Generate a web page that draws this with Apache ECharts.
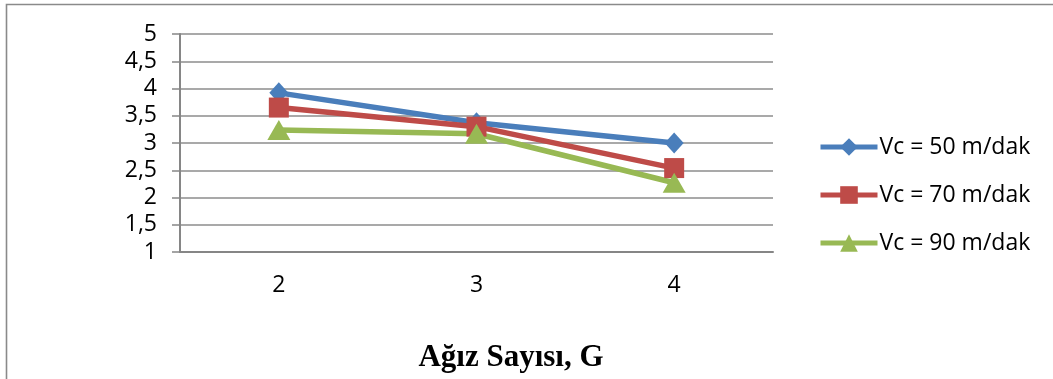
<!DOCTYPE html>
<html>
<head>
<meta charset="utf-8">
<script src="https://cdn.jsdelivr.net/npm/echarts@6/dist/echarts.min.js"></script>
<style>
  html, body { margin: 0; padding: 0; background: #fff; }
  #chart { width: 1053px; height: 379px; }
</style>
</head>
<body>
<div id="chart"></div>
<script>
// Number of teeth on the x axis
const categories = ['2', '3', '4'];
// Series values per cutting speed
const vc50 = [3.92, 3.37, 3.0];
const vc70 = [3.65, 3.3, 2.54];
const vc90 = [3.24, 3.17, 2.27];
const seriesNames = ['Vc = 50 m/dak', 'Vc = 70 m/dak', 'Vc = 90 m/dak'];
const xTitle = 'Ağız Sayısı, G';

const axisGray = '#868686';
const font = '"Open Sans", sans-serif';

const chart = echarts.init(document.getElementById('chart'), null, { renderer: 'canvas' });

function lineSeries(name, data, color, symbol, size) {
  return {
    name: name,
    type: 'line',
    data: data,
    symbol: symbol,
    symbolSize: size,
    showAllSymbol: true,
    lineStyle: { color: color, width: 5.5 },
    itemStyle: { color: color },
    emphasis: { disabled: true },
    animation: false
  };
}

chart.setOption({
  animation: false,
  backgroundColor: '#fff',
  textStyle: { fontFamily: font },
  graphic: [{
    type: 'rect',
    shape: { x: 6.5, y: 4.5, width: 1200, height: 500 },
    style: { fill: 'none', stroke: '#8a8a8a', lineWidth: 1.6 },
    silent: true
  }],
  title: {
    text: xTitle,
    left: 506,
    top: 337,
    textAlign: 'center',
    textStyle: {
      fontFamily: '"Liberation Serif", "Times New Roman", serif',
      fontWeight: 'bold',
      fontSize: 31,
      color: '#000'
    }
  },
  grid: { left: 180, right: 280, top: 34, bottom: 127, containLabel: false },
  legend: {
    orient: 'vertical',
    left: 813,
    top: 129,
    itemWidth: 57,
    itemHeight: 22,
    itemGap: 22,
    lineStyle: { width: 5 },
    textStyle: { fontFamily: font, fontSize: 23, color: '#000', lineHeight: 26, padding: [0, 0, 0, -3] },
    data: seriesNames
  },
  xAxis: {
    type: 'category',
    data: categories,
    boundaryGap: true,
    axisLine: { show: true, lineStyle: { color: axisGray, width: 2 } },
    axisTick: { show: false },
    axisLabel: { fontFamily: font, fontSize: 23, color: '#000', margin: 22 },
    splitLine: { show: false }
  },
  yAxis: {
    type: 'value',
    min: 1,
    max: 5,
    interval: 0.5,
    axisLine: { show: true, lineStyle: { color: axisGray, width: 2 } },
    axisTick: { show: true, length: 8, lineStyle: { color: axisGray, width: 1.5 } },
    axisLabel: {
      fontFamily: font, fontSize: 23, color: '#000', margin: 23,
      formatter: v => String(v).replace('.', ',')
    },
    splitLine: { show: true, lineStyle: { color: '#8c8c8c', width: 1.5 } }
  },
  series: [
    lineSeries(seriesNames[0], vc50, '#4A7EBB', 'diamond', [19, 21]),
    lineSeries(seriesNames[1], vc70, '#BE4B48', 'rect', [20, 20]),
    lineSeries(seriesNames[2], vc90, '#98B954', 'triangle', [23, 20])
  ]
});
</script>
</body>
</html>
